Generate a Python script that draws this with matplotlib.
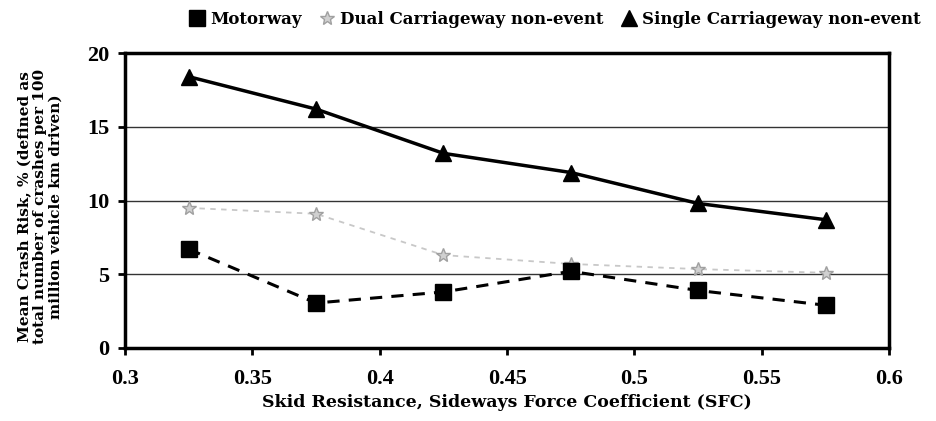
import matplotlib
matplotlib.use("Agg")
import matplotlib.pyplot as plt

plt.rcParams['font.family'] = ['Liberation Serif', 'DejaVu Serif']

sfc = [0.325, 0.375, 0.425, 0.475, 0.525, 0.575]
motorway = [6.7, 3.05, 3.8, 5.2, 3.9, 2.9]
dual = [9.5, 9.1, 6.3, 5.7, 5.35, 5.1]
single = [18.4, 16.2, 13.2, 11.9, 9.8, 8.7]
xticks = [0.3, 0.35, 0.4, 0.45, 0.5, 0.55, 0.6]
xticklabels = ['0.3', '0.35', '0.4', '0.45', '0.5', '0.55', '0.6']
yticks = [0, 5, 10, 15, 20]

fig = plt.figure(figsize=(9.36, 4.21), dpi=100)
ax = fig.add_axes([0.1335, 0.1734, 0.8165, 0.7006])

for y in [5, 10, 15]:
    ax.axhline(y, color='#333333', lw=1.0, zorder=1)

ax.plot(sfc, motorway, color='black', ls=(0, (4, 3)), lw=2.2, marker='s', ms=11,
        label='Motorway', zorder=3)
ax.plot(sfc, dual, color='#c8c8c8', ls=(0, (3, 3)), lw=1.3, marker='*', ms=10,
        markerfacecolor='#d0d0d0', markeredgecolor='#a0a0a0', label='Dual Carriageway non-event', zorder=2)
ax.plot(sfc, single, color='black', ls='-', lw=2.5, marker='^', ms=12,
        label='Single Carriageway non-event', zorder=3)

ax.set_xlim(0.3, 0.6)
ax.set_ylim(0, 20)
ax.set_xticks(xticks)
ax.set_xticklabels(xticklabels)
ax.set_yticks(yticks)
for s in ax.spines.values():
    s.set_linewidth(2.5)
ax.tick_params(axis='both', labelsize=16, width=2, length=5)
ax.tick_params(axis='x', pad=10)
ax.tick_params(axis='y', pad=6)
for lab in ax.get_xticklabels() + ax.get_yticklabels():
    lab.set_fontweight('bold')

serif_wide = ['DejaVu Serif']
ax.set_xlabel('Skid Resistance, Sideways Force Coefficient (SFC)', fontsize=12.5,
              fontweight='bold', labelpad=4, family=serif_wide)
ax.set_ylabel('Mean Crash Risk, % (defined as\ntotal number of crashes per 100\nmillion vehicle km driven)',
              fontsize=11, fontweight='bold', linespacing=1.1, family=serif_wide)
ax.yaxis.set_label_coords(-0.082, 0.48)

leg = fig.legend(loc='upper right', bbox_to_anchor=(1.0, 1.01), ncol=3, frameon=False,
                 prop={'weight': 'bold', 'size': 12, 'family': serif_wide}, handlelength=1.0,
                 handletextpad=0.3, columnspacing=1.0)
for h in leg.legend_handles:
    h.set_linestyle('none')

fig.savefig('out.png', dpi=100)
